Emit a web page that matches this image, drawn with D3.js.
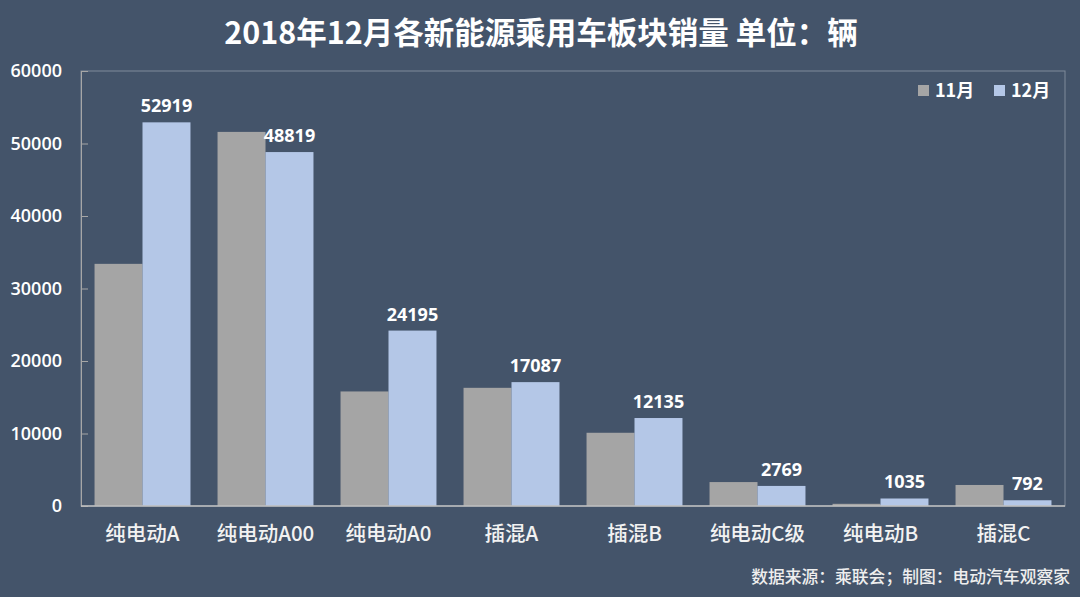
<!DOCTYPE html>
<html><head><meta charset="utf-8">
<script src="https://cdn.jsdelivr.net/npm/d3@7"></script>
<style>
html,body{margin:0;padding:0;background:#44546a;}
svg{display:block;}
</style></head>
<body>
<svg id="chart" width="1080" height="597"></svg>
<script>
const categories = ["纯电动A","纯电动A00","纯电动A0","插混A","插混B","纯电动C级","纯电动B","插混C"];
const seriesNames = ["11月","12月"];
const nov = [33400, 51600, 15800, 16300, 10100, 3300, 300, 2900];
const dec = [52919, 48819, 24195, 17087, 12135, 2769, 1035, 792];
const yTicks = [0, 10000, 20000, 30000, 40000, 50000, 60000];
const title = "2018年12月各新能源乘用车板块销量 单位：辆";
const source = "数据来源：乘联会；制图：电动汽车观察家";

const colors = ["#a5a5a5", "#b4c7e7"];
const svg = d3.select("#chart");
const W = 1080, H = 597;
const m = {left: 81, right: 1065, top: 71, bottom: 506};
const cjk = "'Noto Sans CJK SC','Noto Sans',sans-serif";

svg.append("rect").attr("width", W).attr("height", H).attr("fill", "#44546a");

const x = d3.scaleBand().domain(categories).range([m.left, m.right]).paddingInner(0.22).paddingOuter(0.11);
const x1 = d3.scaleBand().domain(seriesNames).range([0, x.bandwidth()]);
const y = d3.scaleLinear().domain([0, 60000]).range([m.bottom, m.top]);

// plot frame
svg.append("rect").attr("x", m.left).attr("y", m.top).attr("width", m.right - m.left).attr("height", m.bottom - m.top)
  .attr("fill", "none").attr("stroke", "#7f8a9a").attr("stroke-width", 1);

// y axis
const yAxis = svg.append("g").attr("transform", `translate(${m.left},0)`)
  .call(d3.axisRight(y).tickValues(yTicks).tickSize(7).tickFormat(""));
yAxis.select(".domain").attr("stroke", "#a6a6a6");
yAxis.selectAll(".tick line").attr("stroke", "#a6a6a6");
svg.append("g").selectAll("text").data(yTicks).join("text")
  .attr("x", 62).attr("y", d => y(d)).attr("dy", "0.35em")
  .attr("text-anchor", "end").attr("fill", "#ffffff")
  .attr("font-family", "'Open Sans','Noto Sans',sans-serif").attr("font-weight", 600).attr("font-size", 18)
  .text(d => d);

// bars
const data = categories.map((c, i) => ({c, vals: [nov[i], dec[i]]}));
const g = svg.append("g").selectAll("g").data(data).join("g")
  .attr("transform", d => `translate(${x(d.c)},0)`);
g.selectAll("rect").data(d => d.vals.map((v, j) => ({s: seriesNames[j], v, j}))).join("rect")
  .attr("x", d => x1(d.s)).attr("width", x1.bandwidth())
  .attr("y", d => y(d.v)).attr("height", d => y(0) - y(d.v))
  .attr("fill", d => colors[d.j]);

// x axis line
svg.append("line").attr("x1", m.left).attr("x2", m.right).attr("y1", m.bottom).attr("y2", m.bottom)
  .attr("stroke", "#bfbfbf").attr("stroke-width", 1.5);

// data labels (12月)
g.append("text")
  .attr("x", x1("12月") + x1.bandwidth() / 2)
  .attr("y", d => y(d.vals[1]) - 10)
  .attr("text-anchor", "middle").attr("fill", "#ffffff")
  .attr("font-family", "'Open Sans','Noto Sans',sans-serif").attr("font-weight", 700).attr("font-size", 18)
  .text(d => d.vals[1]);

// category labels
svg.append("g").selectAll("text").data(categories).join("text")
  .attr("x", d => x(d) + x.bandwidth() / 2).attr("y", 541)
  .attr("text-anchor", "middle").attr("fill", "#f2f2f2")
  .attr("font-family", cjk).attr("font-weight", 500).attr("font-size", 20.5)
  .text(d => d);

// title
svg.append("text").attr("x", 541).attr("y", 44).attr("text-anchor", "middle")
  .attr("fill", "#ffffff").attr("font-family", cjk).attr("font-weight", 700).attr("font-size", 30.5)
  .text(title);

// legend
const lg = svg.append("g");
const lx = [918, 994];
seriesNames.forEach((s, i) => {
  lg.append("rect").attr("x", lx[i]).attr("y", 85).attr("width", 11).attr("height", 11).attr("fill", colors[i]);
  lg.append("text").attr("x", lx[i] + 17).attr("y", 97).attr("fill", "#ffffff")
    .attr("font-family", cjk).attr("font-weight", 700).attr("font-size", 18).text(s);
});

// source
svg.append("text").attr("x", 1070).attr("y", 583).attr("text-anchor", "end")
  .attr("fill", "#eeeeee").attr("font-family", cjk).attr("font-weight", 500).attr("font-size", 16.8)
  .text(source);
</script>
</body></html>
